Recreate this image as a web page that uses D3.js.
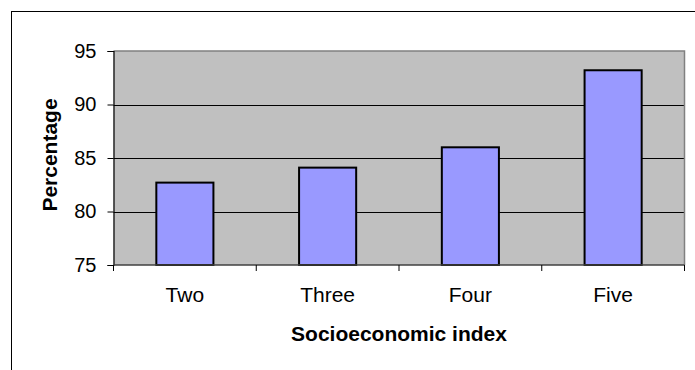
<!DOCTYPE html>
<html>
<head>
<meta charset="utf-8">
<script src="https://cdn.jsdelivr.net/npm/d3@7"></script>
<style>
  html, body { margin: 0; padding: 0; background: #fff; }
  svg { display: block; }
  text { font-family: Arial, "Liberation Sans", sans-serif; fill: #000; }
</style>
</head>
<body>
<svg id="chart" width="695" height="370"></svg>
<script>
// Share of respondents by socioeconomic index level
const categories = ["Two", "Three", "Four", "Five"];
const percentages = [82.7, 84.1, 86.0, 93.2];
const yTicks = [75, 80, 85, 90, 95];
const xTitle = "Socioeconomic index";
const yTitle = "Percentage";

const W = 695, H = 370;
const plot = { left: 113.5, top: 51, right: 684.5, bottom: 265 };

const svg = d3.select("#chart");

// outer chart frame (runs past the right and bottom edges)
svg.append("rect")
  .attr("x", 11.5).attr("y", 11.5)
  .attr("width", W + 20).attr("height", H + 20)
  .attr("fill", "none").attr("stroke", "#000").attr("stroke-width", 1);

const x = d3.scaleBand()
  .domain(categories)
  .range([plot.left, plot.right])
  .paddingInner(0.6)
  .paddingOuter(0.3);

const y = d3.scaleLinear()
  .domain([75, 95])
  .range([plot.bottom, plot.top]);

// plot background
svg.append("rect")
  .attr("x", plot.left).attr("y", plot.top)
  .attr("width", plot.right - plot.left).attr("height", plot.bottom - plot.top)
  .attr("fill", "#c0c0c0");

// horizontal gridlines
svg.append("g")
  .selectAll("line")
  .data(yTicks.filter(t => t > 75 && t < 95))
  .join("line")
  .attr("x1", plot.left).attr("x2", plot.right)
  .attr("y1", d => Math.round(y(d)) + 0.5).attr("y2", d => Math.round(y(d)) + 0.5)
  .attr("stroke", "#000").attr("stroke-width", 1);

// plot border (top and right)
svg.append("path")
  .attr("d", `M${plot.left},${plot.top}H${plot.right}V${plot.bottom}`)
  .attr("fill", "none").attr("stroke", "#808080").attr("stroke-width", 1.5);

// bars
svg.append("g")
  .selectAll("rect")
  .data(categories.map((c, i) => ({ c, v: percentages[i] })))
  .join("rect")
  .attr("x", d => x(d.c))
  .attr("y", d => y(d.v))
  .attr("width", x.bandwidth())
  .attr("height", d => y(75) - y(d.v))
  .attr("fill", "#9999ff")
  .attr("stroke", "#000")
  .attr("stroke-width", 2);

// y axis
const yAxis = svg.append("g")
  .attr("transform", `translate(${plot.left},0)`)
  .call(d3.axisLeft(y).tickValues(yTicks).tickSize(6).tickPadding(11).tickFormat(d3.format("d")));
yAxis.select(".domain").attr("stroke", "#000").attr("stroke-width", 1.2);
yAxis.selectAll(".tick line").attr("stroke", "#000");
yAxis.selectAll(".tick text")
  .attr("font-size", 20)
  .attr("font-family", "Arial, 'Liberation Sans', sans-serif")
  .attr("fill", "#000");

// x axis: ticks sit on the category boundaries
const xAxisG = svg.append("g")
  .attr("transform", `translate(0,${plot.bottom})`);
xAxisG.append("line")
  .attr("x1", plot.left).attr("x2", plot.right)
  .attr("y1", 0).attr("y2", 0)
  .attr("stroke", "#404040").attr("stroke-width", 1.5);
const boundaries = d3.range(categories.length + 1).map(i => plot.left + i * (plot.right - plot.left) / categories.length);
xAxisG.selectAll("line.tk")
  .data(boundaries)
  .join("line")
  .attr("class", "tk")
  .attr("x1", d => d).attr("x2", d => d)
  .attr("y1", 0).attr("y2", 6)
  .attr("stroke", "#000").attr("stroke-width", 1);
xAxisG.selectAll("text")
  .data(categories)
  .join("text")
  .attr("x", d => x(d) + x.bandwidth() / 2)
  .attr("y", 36.5)
  .attr("text-anchor", "middle")
  .attr("font-size", 21)
  .text(d => d);

// axis titles
svg.append("text")
  .attr("x", (plot.left + plot.right) / 2)
  .attr("y", 340.5)
  .attr("text-anchor", "middle")
  .attr("font-size", 21)
  .attr("font-weight", "bold")
  .text(xTitle);

svg.append("text")
  .attr("transform", "translate(56.5,155) rotate(-90)")
  .attr("text-anchor", "middle")
  .attr("font-size", 21)
  .attr("font-weight", "bold")
  .text(yTitle);
</script>
</body>
</html>
